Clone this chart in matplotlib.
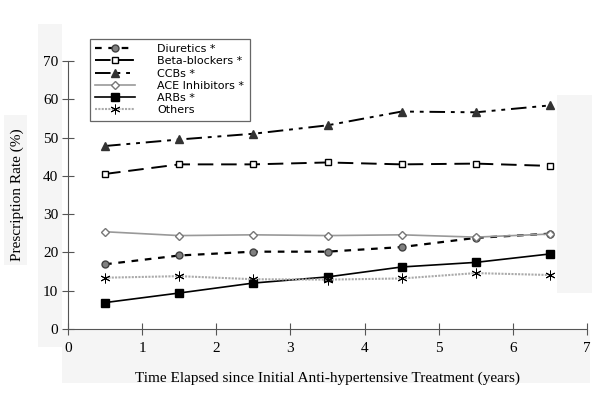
import numpy as np
import matplotlib
matplotlib.use("Agg")
from matplotlib import pyplot as plt
from matplotlib.patches import Rectangle

years = [0.5, 1.5, 2.5, 3.5, 4.5, 5.5, 6.5]
diuretics = [16.9, 19.2, 20.2, 20.2, 21.4, 23.8, 24.9]
beta_blockers = [40.5, 43.0, 43.0, 43.5, 43.0, 43.2, 42.6]
ccbs = [47.8, 49.5, 51.0, 53.2, 56.8, 56.6, 58.4]
ace_inhibitors = [25.4, 24.4, 24.6, 24.4, 24.6, 24.0, 24.8]
arbs = [6.9, 9.4, 12.0, 13.6, 16.2, 17.4, 19.6]
others = [13.4, 13.8, 13.0, 12.9, 13.2, 14.6, 14.1]

labels = ["Diuretics *", "Beta-blockers *", "CCBs *", "ACE Inhibitors *", "ARBs *", "Others"]
x_ticks = [0, 1, 2, 3, 4, 5, 6, 7]
y_ticks = [0, 10, 20, 30, 40, 50, 60, 70]

fig = plt.figure(figsize=(6, 4.15), dpi=100)
W, H = 600.0, 415.0

# light grey patches behind the labels (scan artefacts in the original)
def patch(x0, y0, x1, y1):
    fig.patches.append(Rectangle((x0 / W, 1 - y1 / H), (x1 - x0) / W, (y1 - y0) / H,
                                 transform=fig.transFigure, facecolor="#f5f5f5",
                                 edgecolor="none", zorder=-10))

patch(38, 24, 62, 347)
patch(4, 115, 27, 265)
patch(62, 330, 590, 383)
patch(557, 95, 592, 293)

ax = fig.add_axes([68 / W, 1 - 329 / H, (587 - 68) / W, (329 - 61) / H])
ax.set_facecolor("none")
ax.set_zorder(5)

ax.plot(years, diuretics, color="black", lw=1.6, dashes=(3, 3),
        marker="o", ms=5, mfc="#808080", mec="#404040", label=labels[0])
ax.plot(years, beta_blockers, color="black", lw=1.4, dashes=(8, 4),
        marker="s", ms=5, mfc="white", mec="black", label=labels[1])
ax.plot(years, ccbs, color="black", lw=1.4, dashes=(8, 3, 2, 3, 2, 3),
        marker="^", ms=5.5, mfc="#333333", mec="#333333", label=labels[2])
ax.plot(years, ace_inhibitors, color="#999999", lw=1.2,
        marker="D", ms=4, mfc="white", mec="#777777", label=labels[3])
ax.plot(years, arbs, color="black", lw=1.2,
        marker="s", ms=5.5, mfc="black", mec="black", label=labels[4])
ax.plot(years, others, color="#aaaaaa", lw=1.5, ls=(0, (1, 0.6)),
        marker=(6, 2, 0), ms=7, mec="black", mew=0.7, label=labels[5])

ax.set_xlim(0, 7)
ax.set_ylim(0, 70)
ax.set_xticks(x_ticks)
ax.set_yticks(y_ticks)
for s in ["top", "right"]:
    ax.spines[s].set_visible(False)
for s in ["left", "bottom"]:
    ax.spines[s].set_color("#555555")
    ax.spines[s].set_linewidth(0.8)
ax.tick_params(direction="inout", length=8, width=0.8, color="#555555",
               labelsize=11, pad=3)
ax.tick_params(axis="x", pad=5)
for t in ax.get_xticklabels() + ax.get_yticklabels():
    t.set_fontfamily("Liberation Serif")
ax.set_xlabel("Time Elapsed since Initial Anti-hypertensive Treatment (years)",
              fontsize=11, family="Liberation Serif", labelpad=12)
ax.set_ylabel("Prescription Rate (%)", fontsize=11, family="Liberation Serif", labelpad=14)

leg = fig.legend(loc="upper left", bbox_to_anchor=(84 / W, 1 - 33 / H),
                 fontsize=8, handlelength=3.6, handletextpad=2.0,
                 labelspacing=0.2, borderpad=0.5, fancybox=False, framealpha=1,
                 edgecolor="#666666")
leg.get_frame().set_linewidth(0.9)
leg.set_zorder(10)

fig.savefig("out.png", dpi=100)
